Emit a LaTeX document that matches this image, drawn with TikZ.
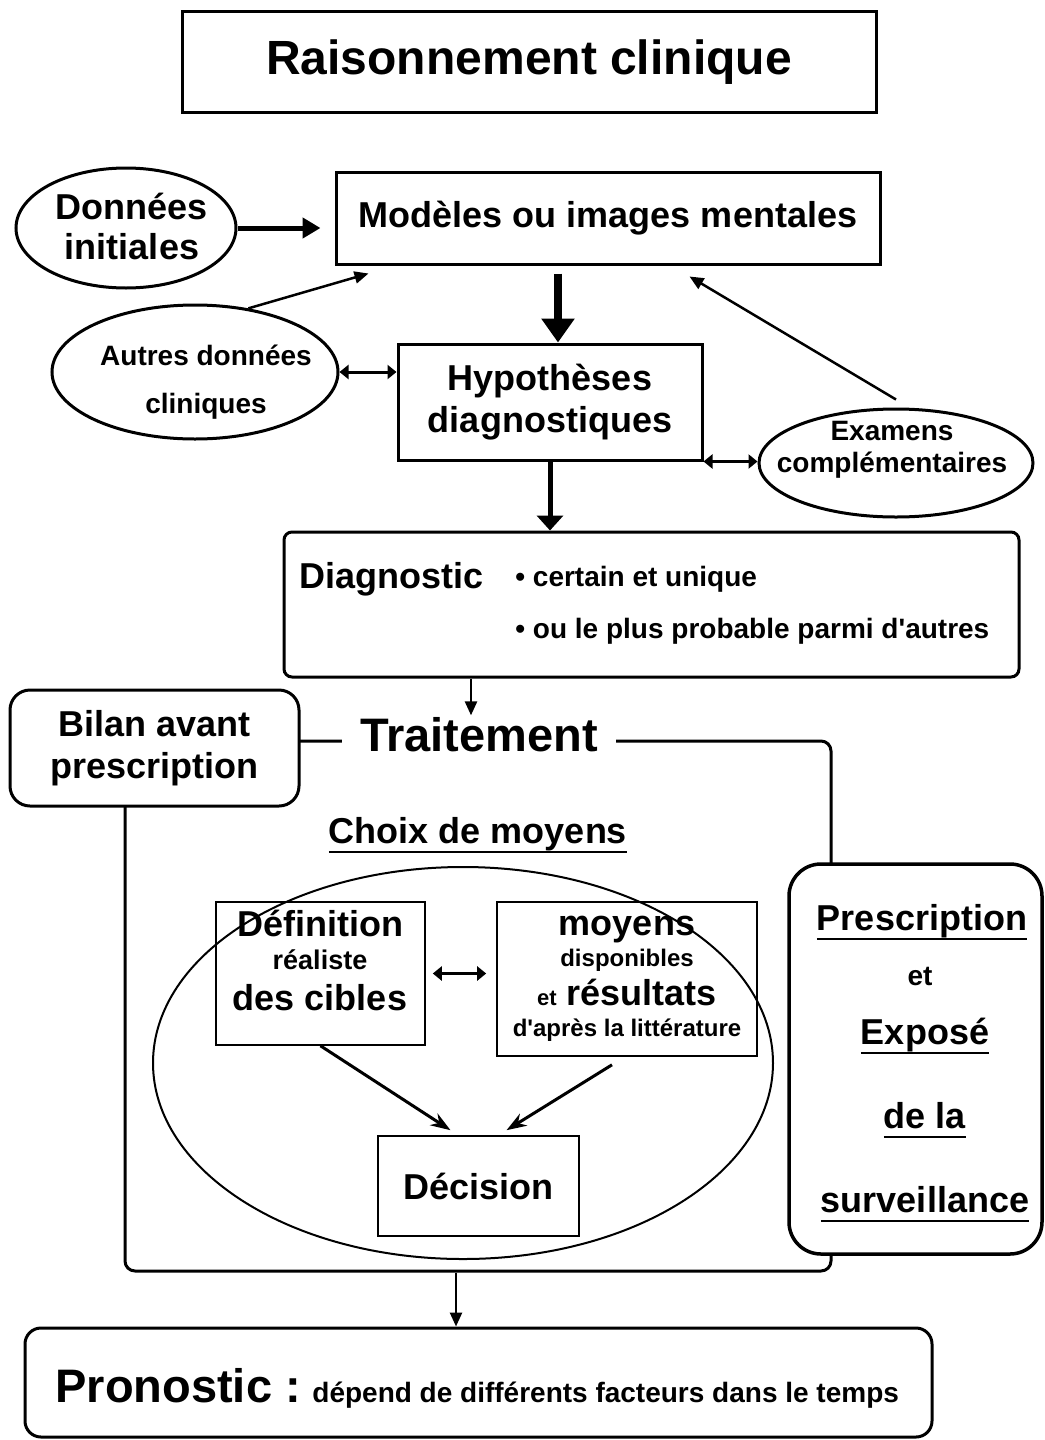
\documentclass[tikz,border=0pt]{standalone}
\usepackage{fontspec}
\setmainfont{Liberation Sans}
\usetikzlibrary{shapes.geometric,arrows.meta,calc}

\newcommand\policeXL{\fontsize{24}{28}\selectfont\bfseries}
\newcommand\policeL{\fontsize{18}{21}\selectfont\bfseries}
\newcommand\policeM{\fontsize{14}{16}\selectfont\bfseries}
\newcommand\policeS{\fontsize{12}{14}\selectfont\bfseries}
\newsavebox\boitesoul
\newcommand\souligne[1]{\sbox\boitesoul{#1}\rlap{\usebox\boitesoul}\rule[-5.2pt]{\wd\boitesoul}{1.3pt}}

\begin{document}
\begin{tikzpicture}[x=0.5pt,y=-0.5pt]
  % Axe y inverse : les positions sont donnees en pixels depuis le haut.
  \tikzset{
    boite/.style={draw,line width=1.5pt,fill=white,align=center,inner sep=0pt},
    arrondi/.style={boite,rounded corners=#1},
    bulle/.style={ellipse,draw,line width=1.5pt,fill=white,inner sep=0pt},
    fine/.style={draw,line width=0.8pt,inner sep=0pt},
    texte/.style={inner sep=0pt,anchor=base},
    fleche/.style={line width=1.25pt,-{Triangle[length=7pt,width=6pt]}},
    bifleche/.style={line width=1.5pt,{Triangle[length=4.5pt,width=7pt]}-{Triangle[length=4.5pt,width=7pt]}},
    pointe/.style={line width=1.5pt,-{Stealth[length=10pt,width=7pt]}}}
  \useasboundingbox (0,0) rectangle (1044,1440);

  \node[boite,minimum width=347pt,minimum height=50.5pt,font=\policeXL] (titre) at (529,62) {Raisonnement clinique};

  % Recueil des donnees et hypotheses
  \node[bulle,minimum width=110pt,minimum height=60pt] (donnees) at (126,228) {};
  \node[align=center,inner sep=0pt,font=\policeL] (donneest) at (132,226) {Données\\[-1pt]initiales};
  \node[boite,minimum width=272pt,minimum height=46pt,font=\policeL] (modeles) at (608,218) {Modèles ou images mentales};
  \node[bulle,minimum width=143pt,minimum height=67pt] (autres) at (195,372) {};
  \node[align=center,inner sep=0pt,font=\policeM] (autrest) at (206,382) {Autres données\\[8pt]cliniques};
  \node[boite,minimum width=152pt,minimum height=58pt,font=\policeL] (hypo) at (550,402) {Hypothèses\\diagnostiques};
  \node[bulle,minimum width=137pt,minimum height=54pt] (examens) at (896,463) {};
  \node[align=center,inner sep=0pt,font=\policeM] (examenst) at (892,450) {Examens\\complémentaires};

  \draw[line width=2.5pt,-{Triangle[length=9pt,width=10pt]},shorten >=7pt] (donnees.east) -- (donnees.east -| modeles.west);
  \coordinate (versmodA) at ($(modeles.south west)+(34,8)$);
  \draw[fleche] (autres.50) -- (versmodA);
  \draw[line width=4pt,-{Triangle[length=12pt,width=16pt]},shorten <=4pt] ([xshift=4pt]hypo.north |- modeles.south) -- ([xshift=4pt]hypo.north);
  \draw[bifleche] (autres.east) -- (autres.east -| hypo.west);
  \coordinate (versmodB) at ($(modeles.south east)+(-192,11)$);
  \draw[fleche] ([yshift=4pt]examens.north) -- (versmodB);
  \draw[bifleche] (hypo.south east) -- (hypo.south east -| examens.west);

  % Diagnostic
  \node[arrondi=4pt,minimum width=367.5pt,minimum height=72.5pt] (diag) at (651.5,604.5) {};
  \node[texte,anchor=base west,font=\policeL] (diagtitre) at (299,588) {Diagnostic};
  \node[texte,anchor=base west,font=\policeM] (diagun) at (515,586) {• certain et unique};
  \node[texte,anchor=base west,font=\policeM] (diagdeux) at (515,638) {• ou le plus probable parmi d\textquotesingle autres};
  \draw[line width=2.5pt,-{Triangle[length=7.5pt,width=13pt]}] (hypo.south) -- (hypo.south |- diag.north);

  % Traitement
  \node[arrondi=5pt,fill=none,minimum width=353pt,minimum height=265pt] (cadre) at (478,1006) {};
  \node[arrondi=10pt,minimum width=144.5pt,minimum height=58pt,font=\policeL] (bilan) at (154.5,748) {Bilan avant\\prescription};
  \node[fill=white,inner xsep=9pt,inner ysep=1pt,font=\fontsize{23.5}{28}\selectfont\bfseries] (trait) at (479,735) {Traitement};
  \draw[fleche] ([xshift=-4pt]trait.north |- diag.south) -- ([xshift=-4pt]trait.north);
  \node[texte,font=\policeL] (choix) at (478,843) {\souligne{Choix de moyens}};

  \node[ellipse,draw,line width=1pt,minimum width=310pt,minimum height=196pt] (choixell) at (463,1063) {};
  \node[fine,minimum width=104.5pt,minimum height=71.5pt] (cibles) at (320.5,973.5) {};
  \node[texte,font=\policeL] (ciblesA) at (320,936) {Définition};
  \node[texte,font=\fontsize{13.5}{16}\selectfont\bfseries] (ciblesB) at (320,969) {réaliste};
  \node[texte,font=\policeL] (ciblesC) at (320,1010) {des cibles};
  \node[fine,minimum width=130pt,minimum height=77pt] (moyens) at (627,979) {};
  \node[texte,font=\policeL] (moyensA) at (627,935) {moyens};
  \node[texte,font=\policeS] (moyensB) at (627,966) {disponibles};
  \node[texte,font=\policeL] (moyensC) at (627,1005) {{\fontsize{11}{13}\selectfont et} résultats};
  \node[texte,font=\policeS] (moyensD) at (627,1036) {d\textquotesingle après la littérature};
  \node[fine,minimum width=100.5pt,minimum height=50pt,font=\policeL] (decision) at (478.5,1186) {Décision};

  \draw[bifleche,shorten <=3.5pt,shorten >=5pt] (cibles.east) -- (cibles.east -| moyens.west);
  \draw[pointe] (cibles.south) -- ($(decision.north)+(-28,-5)$);
  \draw[pointe] ($(moyens.south)+(-15,8)$) -- ($(decision.north)+(28,-5)$);

  \node[arrondi=16pt,line width=1.75pt,minimum width=126.5pt,minimum height=195pt] (prescr) at (915.5,1059) {};
  \node[texte,font=\policeL] (prescA) at (922,930) {\souligne{Prescription}};
  \node[texte,font=\policeM] (prescB) at (920,985) {et};
  \node[texte,font=\policeL] (prescC) at (925,1044) {\souligne{Exposé}};
  \node[texte,font=\policeL] (prescD) at (925,1128) {\souligne{de la}};
  \node[texte,font=\policeL] (prescE) at (925,1212) {\souligne{surveillance}};

  % Pronostic
  \node[arrondi=8pt,minimum width=453.5pt,minimum height=54.5pt] (pronostic) at (478.5,1382.5) {};
  \node[texte,anchor=base west,font=\fontsize{23.5}{28}\selectfont\bfseries] (pronA) at (55,1402) {Pronostic :};
  \node[texte,anchor=base west,font=\policeM] (pronB) at (312,1402) {dépend de différents facteurs dans le temps};
  \draw[fleche] ([xshift=-11pt]cadre.south) -- ([xshift=-11pt]cadre.south |- pronostic.north);
\end{tikzpicture}
\end{document}
